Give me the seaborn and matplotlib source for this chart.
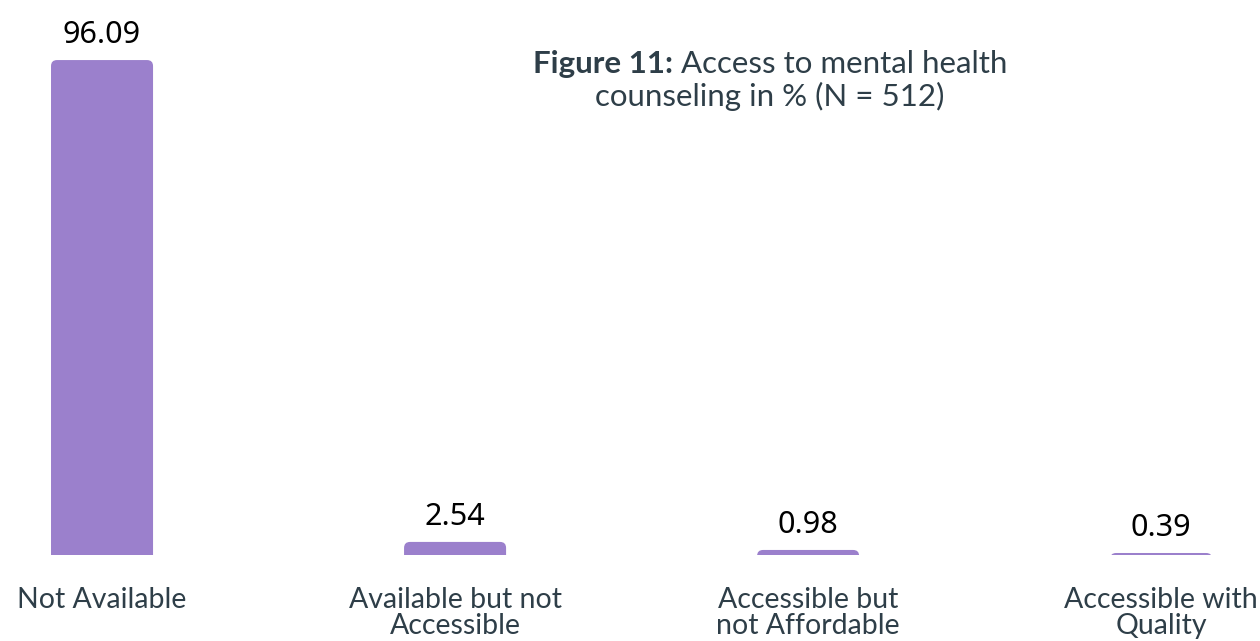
import matplotlib
matplotlib.use("Agg")
import matplotlib.pyplot as plt
import seaborn as sns
import pandas as pd
from matplotlib.patches import FancyBboxPatch

categories = ["Not Available", "Available but not\nAccessible",
              "Accessible but\nnot Affordable", "Accessible with\nQuality"]
values = [96.09, 2.54, 0.98, 0.39]
value_labels = ["96.09", "2.54", "0.98", "0.39"]

BAR_COLOR = "#9B80CC"
TEXT_COLOR = "#2E3E48"

sns.set_theme(style="white")
plt.rcParams["font.family"] = ["Lato", "DejaVu Sans"]

W, H, DPI = 1260, 641, 100
fig = plt.figure(figsize=(W / DPI, H / DPI), dpi=DPI)
ax = fig.add_axes([0, 86 / H, 1, 1 - 86 / H])

df = pd.DataFrame({"category": categories, "value": values})
sns.barplot(data=df, x="category", y="value", color=BAR_COLOR,
            saturation=1, width=0.289, ax=ax)

ax.set_xlim(-0.289, 3.280)
ax.set_ylim(0, 107.75)

# replace square bars with bars whose top corners are rounded
x_per_px = (3.280 + 0.289) / W
y_per_px = 107.75 / (H - 86)
r_px = 6
for p in list(ax.patches):
    x, w, h = p.get_x(), p.get_width(), p.get_height()
    p.set_visible(False)
    box = FancyBboxPatch((x, -r_px * y_per_px * 2), w, h + r_px * y_per_px * 2,
                         boxstyle=f"round,pad=0,rounding_size={r_px * x_per_px}",
                         mutation_aspect=y_per_px / x_per_px,
                         facecolor=BAR_COLOR, edgecolor="none", clip_on=True)
    ax.add_patch(box)

for i, (v, lab) in enumerate(zip(values, value_labels)):
    ax.annotate(lab, (i, v), xytext=(0, 7.5), textcoords="offset points",
                ha="center", va="bottom", fontsize=22, color="black",
                family=["Noto Sans", "DejaVu Sans"])

ax.set_xlabel("")
ax.set_ylabel("")
ax.set_yticks([])
ax.tick_params(axis="x", length=0, pad=23, labelsize=20.5,
               labelcolor=TEXT_COLOR)
for t in ax.get_xticklabels():
    t.set_linespacing(1.0)
for s in ax.spines.values():
    s.set_visible(False)

# title: bold lead-in followed by regular text, centred as one line
cx = 770 / W
y1 = 1 - 73 / H
y2 = 1 - 106 / H
TITLE_SIZE = 22.5
t_bold = fig.text(0, y1, "Figure 11:", fontsize=TITLE_SIZE, fontweight="bold",
                  color=TEXT_COLOR, ha="left", va="baseline")
t_reg = fig.text(0, y1, " Access to mental health", fontsize=TITLE_SIZE,
                 color=TEXT_COLOR, ha="left", va="baseline")
fig.text(cx, y2, "counseling in % (N = 512)", fontsize=TITLE_SIZE,
         color=TEXT_COLOR, ha="center", va="baseline")
fig.canvas.draw()
r = fig.canvas.get_renderer()
wb = t_bold.get_window_extent(r).width
wr = t_reg.get_window_extent(r).width
x0 = cx * W - (wb + wr) / 2
t_bold.set_x(x0 / W)
t_reg.set_x((x0 + wb) / W)

fig.savefig("out.png", dpi=DPI, facecolor="white")
